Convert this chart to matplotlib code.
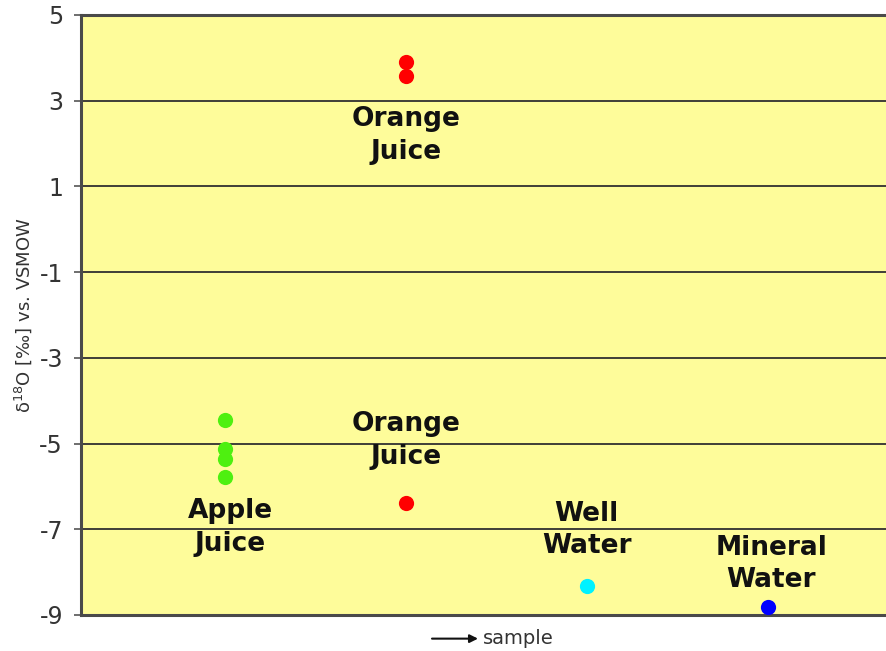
import matplotlib.pyplot as plt

# delta 18O values per sample group
samples = ['Apple\nJuice', 'Orange\nJuice', 'Orange\nJuice', 'Well\nWater', 'Mineral\nWater']
apple = [-4.45, -5.13, -5.36, -5.77]
orange = [3.90, 3.57, -6.38]
well = [-8.32]
mineral = [-8.81]
yticks = [5, 3, 1, -1, -3, -5, -7, -9]

# where each group's name sits
label_y = [-6.96, 2.19, -4.93, -7.01, -7.81]
label_x = [1.03, 2.0, 2.0, 3.0, 4.02]


def main():
    fig = plt.figure(figsize=(8.86, 6.51), dpi=100)
    ax = fig.add_axes([0.0914, 0.0553, 0.924, 0.9217])
    ax.set_facecolor('#fefc9a')

    for y in yticks[1:-1]:
        ax.axhline(y, color='#303030', linewidth=1.3, zorder=1)

    ms = 120
    ax.scatter([1] * len(apple), apple, s=ms, color='#4ef010', zorder=3, linewidths=0)
    ax.scatter([2] * len(orange), orange, s=ms, color='#ff0000', zorder=3, linewidths=0)
    ax.scatter([3] * len(well), well, s=ms, color='#00f2ff', zorder=3, linewidths=0)
    ax.scatter([4] * len(mineral), mineral, s=ms, color='#0000ff', zorder=3, linewidths=0)

    for name, x, y in zip(samples, label_x, label_y):
        ax.text(x, y, name, ha='center', va='center', fontsize=19,
                fontweight='bold', linespacing=1.32, color='#111111', zorder=4)

    ax.set_xlim(0.204, 4.729)
    ax.set_ylim(-9, 5)
    ax.set_yticks(yticks)
    ax.set_yticklabels([str(t) for t in yticks], fontsize=17, color='#333333')
    ax.set_xticks([])
    ax.tick_params(axis='y', direction='out', length=5, width=1.2, color='#555555', pad=8)

    for side in ['left', 'bottom', 'top']:
        ax.spines[side].set_color('#4a4a4a')
        ax.spines[side].set_linewidth(2.2)
    ax.spines['right'].set_visible(False)

    ax.set_ylabel('δ$^{18}$O [‰] vs. VSMOW', fontsize=13, color='#333333', labelpad=4)

    # "-> sample" note under the axis
    ax.annotate('', xy=(478 / 886, 0.019), xytext=(432 / 886, 0.019),
                xycoords='figure fraction', textcoords='figure fraction',
                arrowprops=dict(arrowstyle='-|>', color='#111111', lw=1.5,
                                mutation_scale=12, shrinkA=0, shrinkB=0))
    fig.text(483 / 886, 0.019, 'sample', fontsize=14, color='#333333', ha='left', va='center')

    plt.savefig('out.png', dpi=100)
    plt.close()


if __name__ == "__main__":
    main()
